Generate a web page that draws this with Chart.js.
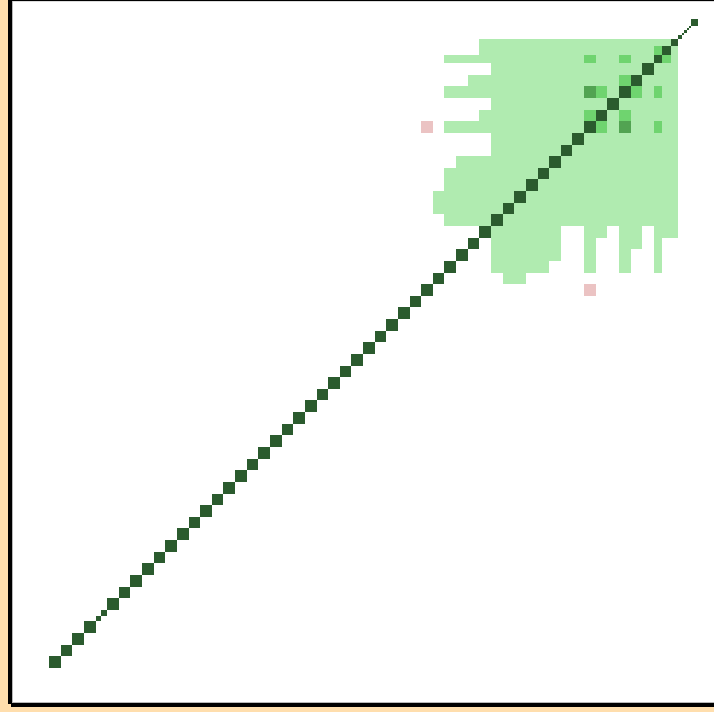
<!DOCTYPE html>
<html>
<head>
<meta charset="utf-8">
<script src="https://cdn.jsdelivr.net/npm/chart.js@4"></script>
<style>
  body { margin: 0; background: #ffdead; }
  #mapa { display: block; }
</style>
</head>
<body>
<canvas id="mapa" width="714" height="712"></canvas>
<script>
/* DATOS */
// width of each bin along both axes (a full bin = 1)
const binSizes = [
  1, 1, 1, 1, 0.44, 0.56,
  1, 1, 1, 1, 1, 1, 1, 1, 1, 1,
  1, 1, 1, 1, 1, 1, 1, 1, 1, 1,
  1, 1, 1, 1, 1, 1, 1, 1, 1, 1,
  1, 1, 1, 1, 1, 1, 1, 1, 1, 1,
  1, 1, 1, 1, 1, 1, 1,
  0.74, 0.72, 0.63, 0.34, 0.19, 0.19, 0.19, 0.19, 0.6
];

// light cells: [row, first column, last column]
const lightRuns = [
  [55, 38, 55], [54, 38, 55], [53, 35, 55], [52, 39, 55], [51, 37, 55],
  [50, 35, 55], [49, 39, 55], [48, 38, 55], [47, 35, 55], [46, 39, 55],
  [45, 39, 55], [44, 36, 55], [43, 35, 55], [42, 35, 55], [41, 34, 55],
  [40, 34, 55], [39, 35, 55],
  [38, 39, 44], [38, 47, 48], [38, 50, 51], [38, 53, 55],
  [37, 39, 44], [37, 47, 47], [37, 50, 51], [37, 53, 53],
  [36, 39, 44], [36, 47, 47], [36, 50, 50], [36, 53, 53],
  [35, 39, 43], [35, 47, 47], [35, 50, 50], [35, 53, 53],
  [34, 40, 41]
];

// [column, row]
const midCells = [
  [53, 54], [54, 53], [47, 53], [50, 53], [50, 51], [48, 50],
  [51, 50], [53, 50], [47, 48], [50, 48], [48, 47], [53, 47]
];
const strongCells = [[47, 50], [50, 47]];
const pinkCells = [[33, 47], [47, 33]];

/* BORDES DE LOS BINS */
let edges = [0];
binSizes.forEach(b => edges.push(edges[edges.length - 1] + b));

function celda(col, row) {
  return {
    x: (edges[col] + edges[col + 1]) / 2,
    y: (edges[row] + edges[row + 1]) / 2,
    col: col,
    row: row
  };
}

let lightData = [];
lightRuns.forEach(run => {
  for (let c = run[1]; c <= run[2]; c++) {
    lightData.push(celda(c, run[0]));
  }
});
let diagData = binSizes.map((b, i) => celda(i, i));

/* PLUGINS */
const marco = {
  id: 'marco',
  beforeDraw(chart) {
    const ctx = chart.ctx;
    const a = chart.chartArea;
    ctx.save();
    ctx.fillStyle = '#ffdead';
    ctx.fillRect(0, 0, chart.width, chart.height);
    ctx.fillStyle = '#000000';
    ctx.fillRect(a.left - 5, 0, chart.width, a.bottom + 2);
    ctx.fillRect(a.left - 2, a.bottom + 1, chart.width, 4);
    ctx.fillStyle = '#b8b8b8';
    ctx.fillRect(a.left - 1, a.top - 0.5, chart.width, a.bottom - a.top + 1.5);
    ctx.fillStyle = '#ffffff';
    ctx.fillRect(a.left, a.top, a.right - a.left, a.bottom - a.top);
    ctx.restore();
  }
};

const celdas = {
  id: 'celdas',
  afterDatasetsDraw(chart) {
    const ctx = chart.ctx;
    const xs = chart.scales.x;
    const ys = chart.scales.y;
    ctx.save();
    chart.data.datasets.forEach(ds => {
      ctx.fillStyle = ds.backgroundColor;
      ds.data.forEach(d => {
        let x0 = Math.round(xs.getPixelForValue(edges[d.col]));
        let x1 = Math.round(xs.getPixelForValue(edges[d.col + 1]));
        let y0 = Math.round(ys.getPixelForValue(edges[d.row + 1]));
        let y1 = Math.round(ys.getPixelForValue(edges[d.row]));
        ctx.fillRect(x0, y0, Math.max(x1 - x0, 1), Math.max(y1 - y0, 1));
      });
    });
    ctx.restore();
  }
};

/* GRAFICA */
const grafica = document.getElementById('mapa').getContext('2d');

new Chart(grafica, {
  type: 'scatter',
  data: {
    datasets: [
      { label: 'light', data: lightData, backgroundColor: '#b0ebb0', pointRadius: 0 },
      { label: 'mid', data: midCells.map(c => celda(c[0], c[1])), backgroundColor: '#6fd46f', pointRadius: 0 },
      { label: 'strong', data: strongCells.map(c => celda(c[0], c[1])), backgroundColor: '#52a352', pointRadius: 0 },
      { label: 'diag', data: diagData, backgroundColor: '#2b5b2e', pointRadius: 0 },
      { label: 'pink', data: pinkCells.map(c => celda(c[0], c[1])), backgroundColor: '#ebc3c3', pointRadius: 0 }
    ]
  },
  options: {
    responsive: false,
    animation: false,
    layout: { padding: { left: 13, top: 1.5, right: 0, bottom: 10 } },
    scales: {
      x: { type: 'linear', min: -3.095, max: 57.17, display: false },
      y: { type: 'linear', min: -2.923, max: 57.30, display: false }
    },
    plugins: {
      legend: { display: false },
      tooltip: { enabled: false }
    }
  },
  plugins: [marco, celdas]
});
</script>
</body>
</html>
